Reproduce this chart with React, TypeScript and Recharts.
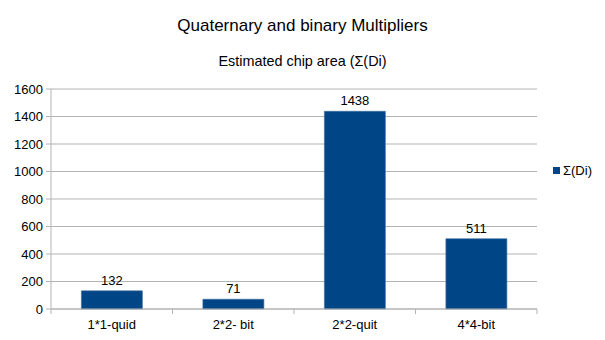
import { BarChart, Bar, XAxis, YAxis, CartesianGrid, LabelList } from "recharts";

const categories = ["1*1-quid", "2*2- bit", "2*2-quit", "4*4-bit"];
const chipArea = [132, 71, 1438, 511];
const yTicks = [0, 200, 400, 600, 800, 1000, 1200, 1400, 1600];

const data = categories.map((name, i) => ({ name, area: chipArea[i] }));

const W = 605;
const H = 340;
const M = { top: 89, right: 68, left: 0, bottom: 0 };
const Y_W = 51;
const FONT = "'Liberation Sans', Arial, sans-serif";
const GRID = "#b3b3b3";
const BLUE = "#004586";

const plotW = W - M.left - M.right - Y_W;
const bandW = plotW / categories.length;

// category ticks sit on band edges, not centres
function XTick(props: any) {
  const { x, y, payload, index } = props;
  const left = x - bandW / 2;
  const last = index === categories.length - 1;
  return (
    <g>
      <line x1={left} x2={left} y1={y - 8} y2={y - 3} stroke={GRID} />
      {last && <line x1={left + bandW} x2={left + bandW} y1={y - 8} y2={y - 3} stroke={GRID} />}
      <text x={x} y={y + 12} textAnchor="middle" fontSize={13} fill="#000" fontFamily={FONT}>
        {payload.value}
      </text>
    </g>
  );
}

export default function App() {
  return (
    <div style={{ position: "absolute", left: 0, top: 0, width: W, height: H, background: "#fff", fontFamily: FONT }}>
      <div style={{ position: "absolute", top: 16, width: W, textAlign: "center", fontSize: 17, color: "#000" }}>
        Quaternary and binary Multipliers
      </div>
      <div style={{ position: "absolute", top: 53, width: W, textAlign: "center", fontSize: 14.4, color: "#000" }}>
        Estimated chip area (Σ(Di)
      </div>
      <div style={{ position: "absolute", left: 553, top: 163, display: "flex", alignItems: "center", fontSize: 13, color: "#000" }}>
        <span style={{ width: 7, height: 7, background: BLUE, display: "inline-block", marginRight: 3 }} />
        Σ(Di)
      </div>
      <BarChart width={W} height={H} data={data} margin={M} barCategoryGap="25%">
        <CartesianGrid vertical={false} stroke={GRID} />
        <XAxis
          dataKey="name"
          stroke={GRID}
          tickLine={false}
          height={31}
          interval={0}
          tick={<XTick />}
        />
        <YAxis
          domain={[0, 1600]}
          ticks={yTicks}
          width={Y_W}
          stroke={GRID}
          tickSize={5}
          tickMargin={3}
          tick={{ fill: "#000", fontSize: 13, fontFamily: FONT }}
        />
        <Bar dataKey="area" fill={BLUE} stroke="#3d6f9e" strokeWidth={0.6} isAnimationActive={false}>
          <LabelList dataKey="area" position="top" offset={6} fill="#000" fontSize={13} fontFamily={FONT} />
        </Bar>
      </BarChart>
    </div>
  );
}
